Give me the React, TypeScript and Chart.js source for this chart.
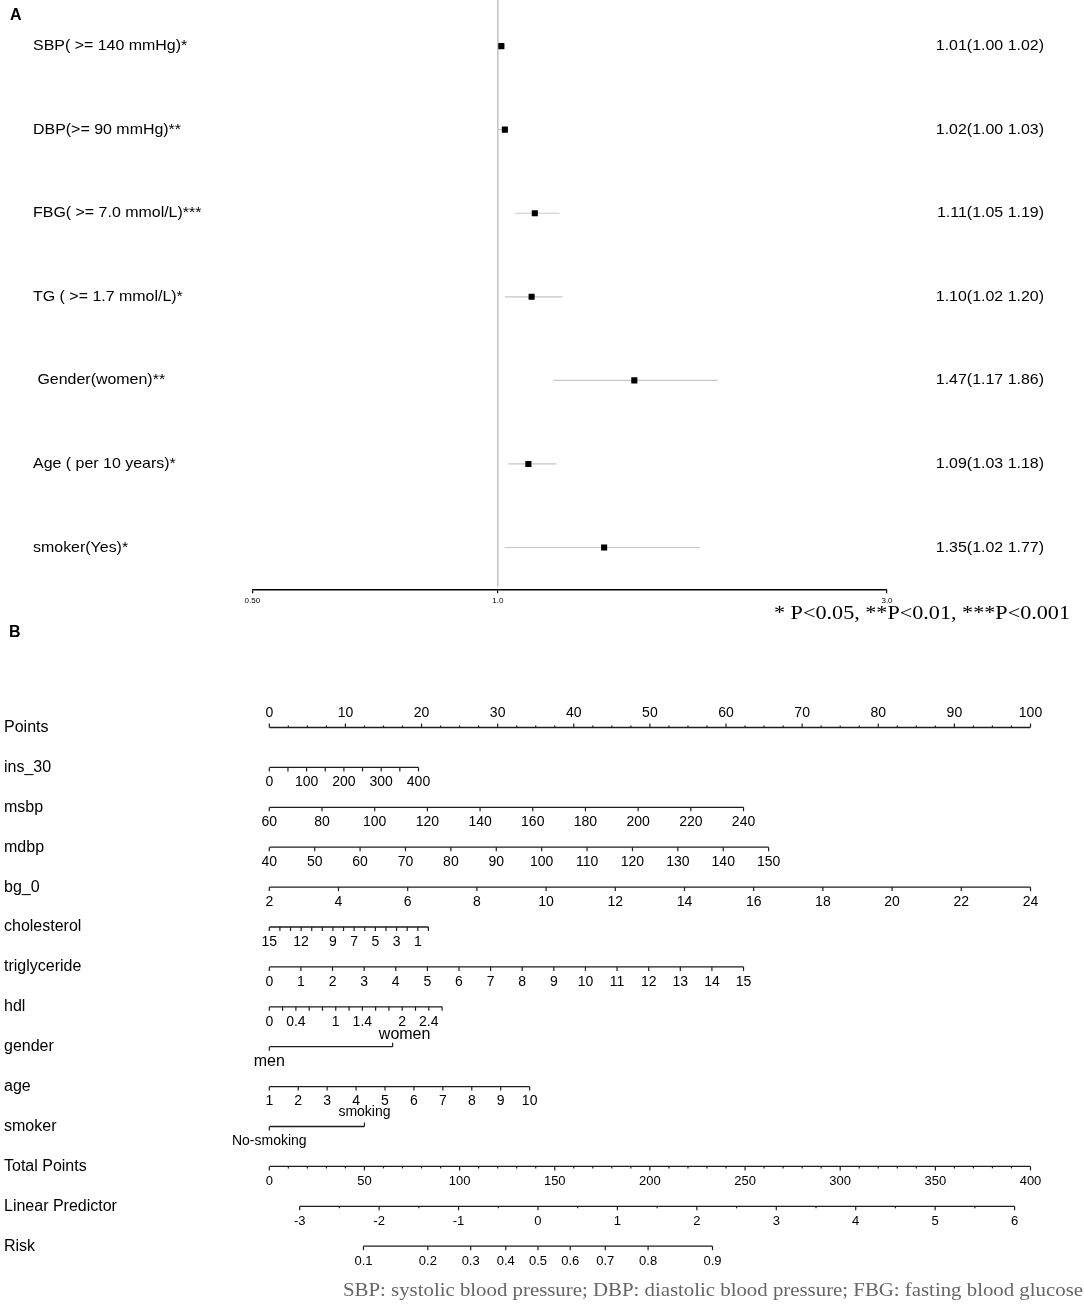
import React, { useEffect, useRef } from 'react';
import { Chart, registerables } from 'chart.js';

Chart.register(...registerables);

const SANS = "'Liberation Sans', Arial, Helvetica, sans-serif";
const SERIF = "'Liberation Serif', 'Times New Roman', Times, serif";

// ---------------- Panel A : forest plot ----------------
const FOREST_LABELS = [
  'SBP( >= 140 mmHg)*',
  'DBP(>= 90 mmHg)**',
  'FBG( >= 7.0 mmol/L)***',
  'TG ( >= 1.7 mmol/L)*',
  ' Gender(women)**',
  'Age ( per 10 years)*',
  'smoker(Yes)*',
];
const OR_EST = [1.01, 1.02, 1.11, 1.1, 1.47, 1.09, 1.35];
const OR_LOW = [1.0, 1.0, 1.05, 1.02, 1.17, 1.03, 1.02];
const OR_HIGH = [1.02, 1.03, 1.19, 1.2, 1.86, 1.18, 1.77];
const OR_TICKS = [0.5, 1.0, 3.0];
const OR_TICK_LABELS = ['0.50', '1.0', '3.0'];
const OR_REF = 1;
const P_NOTE = '* P<0.05, **P<0.01, ***P<0.001';

// ---------------- Panel B : nomogram ----------------
const ROW_NAMES = [
  'Points', 'ins_30', 'msbp', 'mdbp', 'bg_0', 'cholesterol', 'triglyceride',
  'hdl', 'gender', 'age', 'smoker', 'Total Points', 'Linear Predictor', 'Risk',
];
const POINTS_TICKS = [0, 10, 20, 30, 40, 50, 60, 70, 80, 90, 100];
const INS30_TICKS = [0, 50, 100, 150, 200, 250, 300, 350, 400];
const INS30_LABELS = [0, 100, 200, 300, 400];
const INS30_PTS = [0, 19.6];
const MSBP_TICKS = [60, 80, 100, 120, 140, 160, 180, 200, 220, 240];
const MSBP_PTS = [0, 62.3];
const MDBP_TICKS = [40, 50, 60, 70, 80, 90, 100, 110, 120, 130, 140, 150];
const MDBP_PTS = [0, 65.6];
const BG0_TICKS = [2, 4, 6, 8, 10, 12, 14, 16, 18, 20, 22, 24];
const BG0_PTS = [0, 100];
const CHOL_TICKS = [15, 14, 13, 12, 11, 10, 9, 8, 7, 6, 5, 4, 3, 2, 1, 0];
const CHOL_LABELS = [15, 12, 9, 7, 5, 3, 1];
const CHOL_PTS = [0, 20.9];
const TG_TICKS = [0, 1, 2, 3, 4, 5, 6, 7, 8, 9, 10, 11, 12, 13, 14, 15];
const TG_PTS = [0, 62.3];
const HDL_TICKS = [0, 0.2, 0.4, 0.6, 0.8, 1, 1.2, 1.4, 1.6, 1.8, 2, 2.2, 2.4, 2.6];
const HDL_LABELS = [0, 0.4, 1, 1.4, 2, 2.4];
const HDL_PTS = [0, 22.7];
const GENDER_LEVELS = ['men', 'women'];
const GENDER_PTS = [0, 16.2];
const AGE_TICKS = [1, 2, 3, 4, 5, 6, 7, 8, 9, 10];
const AGE_PTS = [0, 34.2];
const SMOKER_LEVELS = ['No-smoking', 'smoking'];
const SMOKER_PTS = [0, 12.5];
const TOTAL_TICKS = [0, 50, 100, 150, 200, 250, 300, 350, 400];
const TOTAL_PTS = [0, 100];
const LP_TICKS = [-3, -2, -1, 0, 1, 2, 3, 4, 5, 6];
const LP_PTS = [3.99, 97.91];
const RISK_TICKS = [0.1, 0.2, 0.3, 0.4, 0.5, 0.6, 0.7, 0.8, 0.9];
const FOOTNOTE =
  'SBP: systolic blood pressure; DBP: diastolic blood pressure; FBG: fasting blood glucose';

// ---------------- helpers ----------------
function between(a: number, b: number, step: number, skip: number) {
  const out: number[] = [];
  const n = Math.round((b - a) / step);
  for (let i = 0; i <= n; i++) {
    const v = +(a + i * step).toFixed(6);
    if (Math.abs(v / skip - Math.round(v / skip)) > 1e-6) out.push(v);
  }
  return out;
}

function txt(
  ctx: CanvasRenderingContext2D,
  s: string,
  x: number,
  y: number,
  size: number,
  align: CanvasTextAlign = 'left',
  opts: { bold?: boolean; family?: string; color?: string; sx?: number; width?: number } = {}
) {
  ctx.save();
  ctx.font = `${opts.bold ? 'bold ' : ''}${size}px ${opts.family || SANS}`;
  ctx.fillStyle = opts.color || '#000';
  ctx.textBaseline = 'middle';
  ctx.textAlign = align;
  let sx = opts.sx || 1;
  if (opts.width) sx = opts.width / ctx.measureText(s).width;
  ctx.translate(x, y);
  ctx.scale(sx, 1);
  ctx.fillText(s, 0, 0);
  ctx.restore();
}

type Row = {
  kind: 'num' | 'cat' | 'risk';
  ticks?: number[];
  labels?: number[];
  minor?: number[];
  span?: number[];
  pts: number[];
  levels?: string[];
  up?: boolean;
  size: number;
};

const lin = (span: number[], pts: number[], v: number) =>
  pts[0] + ((v - span[0]) / (span[1] - span[0])) * (pts[1] - pts[0]);

const numRow = (ticks: number[], pts: number[], extra: Partial<Row> = {}): Row => ({
  kind: 'num',
  ticks,
  labels: ticks,
  span: [ticks[0], ticks[ticks.length - 1]],
  pts,
  size: 14,
  ...extra,
});

const ROWS: Row[] = [
  numRow(POINTS_TICKS, [0, 100], { up: true, minor: between(0, 100, 2.5, 10) }),
  numRow(INS30_TICKS, INS30_PTS, { labels: INS30_LABELS }),
  numRow(MSBP_TICKS, MSBP_PTS),
  numRow(MDBP_TICKS, MDBP_PTS),
  numRow(BG0_TICKS, BG0_PTS),
  numRow(CHOL_TICKS, CHOL_PTS, { labels: CHOL_LABELS }),
  numRow(TG_TICKS, TG_PTS),
  numRow(HDL_TICKS, HDL_PTS, { labels: HDL_LABELS }),
  { kind: 'cat', levels: GENDER_LEVELS, pts: GENDER_PTS, size: 16 },
  numRow(AGE_TICKS, AGE_PTS),
  { kind: 'cat', levels: SMOKER_LEVELS, pts: SMOKER_PTS, size: 14 },
  numRow(TOTAL_TICKS, TOTAL_PTS, { minor: between(0, 400, 10, 50), size: 13 }),
  numRow(LP_TICKS, LP_PTS, { minor: between(-3, 6, 0.5, 1), size: 13 }),
  { kind: 'risk', ticks: RISK_TICKS, labels: RISK_TICKS, pts: LP_PTS, size: 13 },
];

function toPts(row: Row, v: number) {
  if (row.kind === 'risk') {
    const lp = Math.log(v / (1 - v));
    return lin([LP_TICKS[0], LP_TICKS[LP_TICKS.length - 1]], LP_PTS, lp);
  }
  return lin(row.span as number[], row.pts, v);
}

function rowExtent(row: Row): number[] {
  if (row.kind === 'cat') return row.pts;
  const t = row.ticks as number[];
  return [toPts(row, t[0]), toPts(row, t[t.length - 1])];
}

const LINE_COLOR = '#1e1e1e';

export default function App() {
  const refA = useRef<HTMLCanvasElement>(null);
  const refB = useRef<HTMLCanvasElement>(null);

  useEffect(() => {
    // ---------- Chart A ----------
    const ciData: any[] = [];
    OR_LOW.forEach((lo, i) => {
      ciData.push({ x: lo, y: i }, { x: OR_HIGH[i], y: i }, { x: OR_HIGH[i], y: null });
    });

    const forestPlugin = {
      id: 'forestDecor',
      beforeDatasetsDraw(chart: any) {
        const { ctx, chartArea } = chart;
        const x = chart.scales.x.getPixelForValue(OR_REF);
        ctx.save();
        ctx.strokeStyle = '#c2c2c2';
        ctx.lineWidth = 1.5;
        ctx.beginPath();
        ctx.moveTo(x, 0);
        ctx.lineTo(x, chartArea.bottom - 2.5);
        ctx.stroke();
        ctx.restore();
      },
      afterDraw(chart: any) {
        const { ctx } = chart;
        const ys = chart.scales.y;
        FOREST_LABELS.forEach((s, i) => {
          const y = ys.getPixelForValue(i);
          txt(ctx, s, 33, y, 14.5, 'left', { sx: 1.1 });
          const r = `${OR_EST[i].toFixed(2)}(${OR_LOW[i].toFixed(2)} ${OR_HIGH[i].toFixed(2)})`;
          txt(ctx, r, 1044, y, 14.5, 'right', { sx: 1.1 });
        });
        txt(ctx, 'A', 10, 16, 16, 'left', { bold: true });
        txt(ctx, 'B', 9, 633, 16, 'left', { bold: true });
        txt(ctx, P_NOTE, 1070, 614, 18, 'right', { family: SERIF, width: 296 });
      },
    };

    const chartA = new Chart(refA.current as HTMLCanvasElement, {
      type: 'scatter',
      data: {
        datasets: [
          {
            type: 'scatter',
            data: OR_EST.map((v, i) => ({ x: v, y: i })),
            pointStyle: 'rect',
            pointRadius: 4.3,
            pointHoverRadius: 4.3,
            backgroundColor: '#000',
            borderColor: '#000',
            borderWidth: 0,
            order: 0,
          } as any,
          {
            type: 'line',
            data: ciData,
            borderColor: '#c6c6c6',
            borderWidth: 1.2,
            pointRadius: 0,
            showLine: true,
            spanGaps: false,
            order: 1,
          } as any,
        ],
      },
      options: {
        animation: false,
        responsive: false,
        maintainAspectRatio: false,
        devicePixelRatio: 1,
        events: [],
        layout: { padding: { left: 252.3, right: 197, top: 3.2, bottom: 35.7 } },
        plugins: { legend: { display: false }, tooltip: { enabled: false }, title: { display: false } },
        scales: {
          x: {
            type: 'logarithmic',
            min: 0.5,
            max: 3,
            position: 'bottom',
            afterBuildTicks: (s: any) => {
              s.ticks = OR_TICKS.map((v) => ({ value: v }));
            },
            afterFit: (s: any) => {
              s.height = 20;
            },
            ticks: {
              autoSkip: false,
              maxRotation: 0,
              minRotation: 0,
              padding: 3,
              color: '#000',
              font: { size: 8, family: SANS },
              callback: (_v: any, i: number) => OR_TICK_LABELS[i],
            },
            grid: { drawOnChartArea: false, drawTicks: true, tickLength: 4, color: '#000', lineWidth: 1.2 },
            border: { display: true, color: '#000', width: 1.6 },
          } as any,
          y: { type: 'linear', min: -0.5, max: 6.5, reverse: true, display: false },
        },
      },
      plugins: [forestPlugin],
    });

    // ---------- Chart B ----------
    const baseData: any[] = [];
    ROWS.forEach((row, r) => {
      const [a, b] = rowExtent(row);
      baseData.push({ x: a, y: r }, { x: b, y: r }, { x: b, y: null });
    });

    const nomoPlugin = {
      id: 'nomoDecor',
      afterDatasetsDraw(chart: any) {
        const { ctx } = chart;
        const xs = chart.scales.x;
        const ys = chart.scales.y;
        const seg = (x1: number, y1: number, x2: number, y2: number) => {
          ctx.beginPath();
          ctx.moveTo(x1, y1);
          ctx.lineTo(x2, y2);
          ctx.stroke();
        };
        ctx.save();
        ctx.strokeStyle = LINE_COLOR;
        ctx.lineWidth = 1.2;
        ROWS.forEach((row, r) => {
          const y = ys.getPixelForValue(r);
          txt(ctx, ROW_NAMES[r], 4, y, 16);
          if (row.kind === 'cat') {
            const x0 = xs.getPixelForValue(row.pts[0]);
            const x1 = xs.getPixelForValue(row.pts[1]);
            seg(x0, y, x0, y + 4);
            seg(x1, y, x1, y - 4);
            const lv = row.levels as string[];
            txt(ctx, lv[0], x0, y + 15, row.size, 'center');
            txt(ctx, lv[1], x1 + (r === 8 ? 12 : 0), y - (r === 8 ? 12.5 : 14), row.size, 'center');
            return;
          }
          const dir = row.up ? -1 : 1;
          (row.ticks as number[]).forEach((v) => {
            const x = xs.getPixelForValue(toPts(row, v));
            seg(x, y, x, y + dir * 4);
          });
          (row.minor || []).forEach((v) => {
            const x = xs.getPixelForValue(toPts(row, v));
            seg(x, y, x, y + dir * 2);
          });
          (row.labels as number[]).forEach((v) => {
            const x = xs.getPixelForValue(toPts(row, v));
            txt(ctx, String(v), x, y + (row.up ? -14 : 15), row.size, 'center');
          });
        });
        ctx.restore();
      },
      afterDraw(chart: any) {
        txt(chart.ctx, FOOTNOTE, 343, 646, 19, 'left', { family: SERIF, color: '#666', width: 740 });
      },
    };

    const chartB = new Chart(refB.current as HTMLCanvasElement, {
      type: 'scatter',
      data: {
        datasets: [
          {
            type: 'line',
            data: baseData,
            borderColor: LINE_COLOR,
            borderWidth: 1.3,
            pointRadius: 0,
            showLine: true,
            spanGaps: false,
          } as any,
        ],
      },
      options: {
        animation: false,
        responsive: false,
        maintainAspectRatio: false,
        devicePixelRatio: 1,
        events: [],
        layout: { padding: { left: 269.3, right: 53.5, top: 42.6, bottom: 20.9 } },
        plugins: { legend: { display: false }, tooltip: { enabled: false }, title: { display: false } },
        scales: {
          x: { type: 'linear', min: 0, max: 100, display: false },
          y: { type: 'linear', min: -1, max: 14, reverse: true, display: false },
        },
      },
      plugins: [nomoPlugin],
    });

    return () => {
      chartA.destroy();
      chartB.destroy();
    };
  }, []);

  return (
    <div style={{ position: 'absolute', left: 0, top: 0, width: 1084, height: 1307, background: '#fff' }}>
      <canvas
        ref={refA}
        width={1084}
        height={645}
        style={{ position: 'absolute', left: 0, top: 0, width: 1084, height: 645, display: 'block' }}
      />
      <canvas
        ref={refB}
        width={1084}
        height={662}
        style={{ position: 'absolute', left: 0, top: 645, width: 1084, height: 662, display: 'block' }}
      />
    </div>
  );
}
